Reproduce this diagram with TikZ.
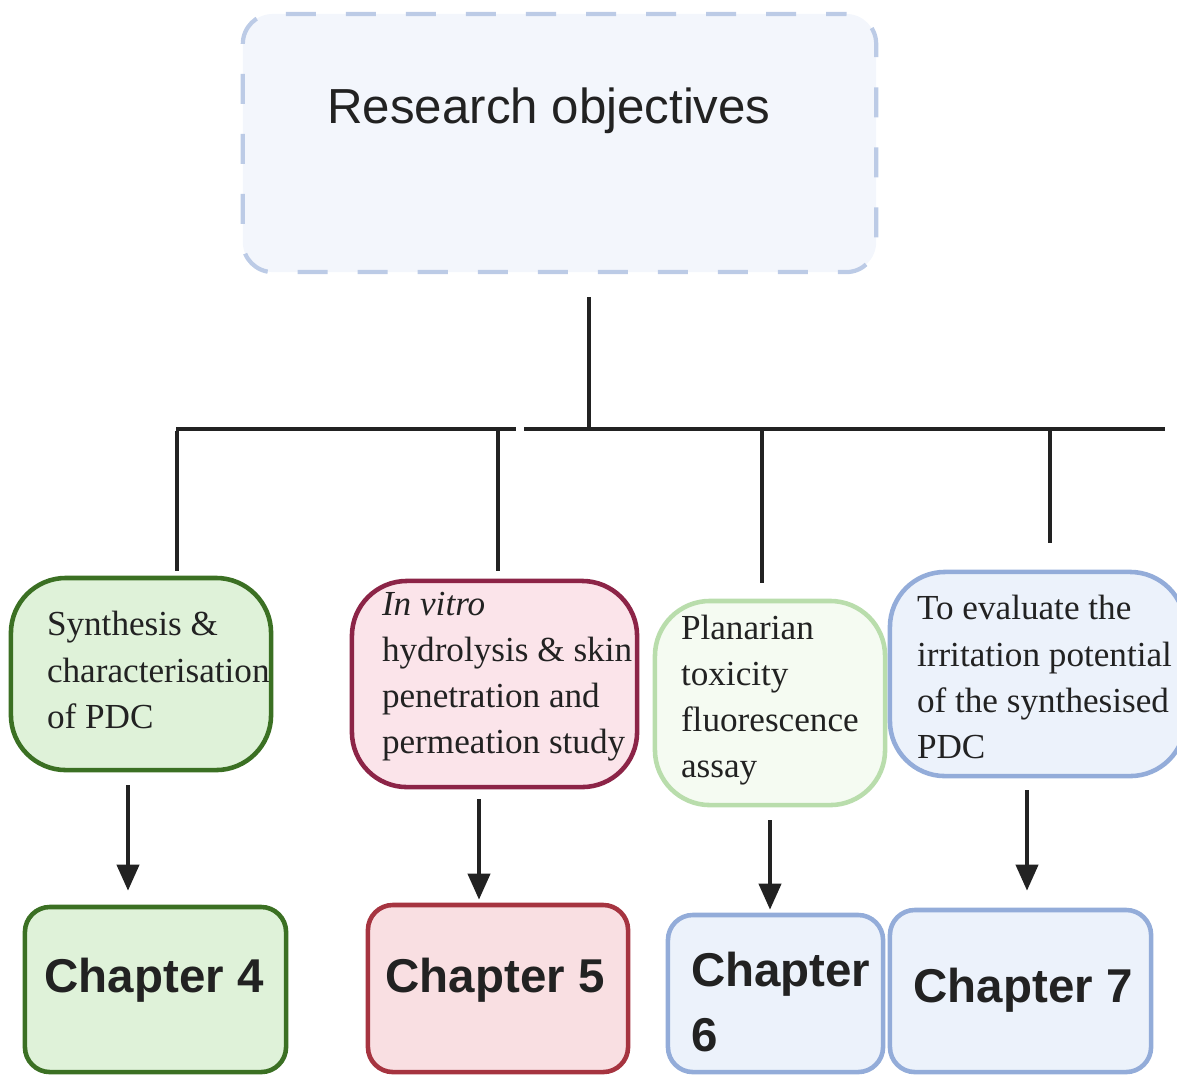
\documentclass[tikz,border=0pt]{standalone}
\usepackage{fontspec}
\setmainfont{Liberation Serif}
\setsansfont{Liberation Sans}
\usetikzlibrary{arrows.meta,positioning}
\definecolor{ink}{HTML}{222222}
\definecolor{dkgreen}{HTML}{3B7023}
\definecolor{dkgreenfill}{HTML}{DFF2D9}
\definecolor{palegreen}{HTML}{B9DDAC}
\definecolor{palegreenfill}{HTML}{F5FBF2}
\definecolor{wine}{HTML}{8C2447}
\definecolor{winefill}{HTML}{FBE4EA}
\definecolor{brick}{HTML}{A63440}
\definecolor{brickfill}{HTML}{F9DFE2}
\definecolor{steel}{HTML}{93ACD9}
\definecolor{steelfill}{HTML}{ECF2FB}
\definecolor{mist}{HTML}{BCCBE6}
\definecolor{mistfill}{HTML}{F3F6FC}

\begin{document}
\begin{tikzpicture}[x=0.01cm, y=-0.01cm, line width=1.15pt]
\tikzstyle{aim} = [draw, rounded corners=0.55cm, line width=1.3pt, inner sep=0cm]
\tikzstyle{chap} = [draw, rounded corners=0.25cm, line width=1.3pt, inner sep=0cm]
\tikzstyle{txt} = [anchor=west, align=left, inner sep=0cm, text=ink, font=\fontsize{10}{13.1}\selectfont]
\tikzstyle{big} = [inner sep=0cm, text=ink, font=\sffamily\bfseries\fontsize{13.5}{18.5}\selectfont]
\tikzstyle{arr} = [draw=ink, -{Triangle[width=0.22cm,length=0.26cm]}]
\useasboundingbox (0,0) rectangle (1177,1075);
% top box
\node[draw=mist, fill=mistfill, dash pattern=on 0.3cm off 0.3cm, dash phase=0.1cm, rounded corners=0.3cm, line width=1.2pt, minimum width=6.33cm, minimum height=2.58cm] (obj) at (559.5,143) {};
\node[text=ink, font=\sffamily\fontsize{14}{16}\selectfont] (objt) at (549,111) {Research objectives};
% objective boxes
\node[aim, draw=dkgreen, fill=dkgreenfill, minimum width=2.60cm, minimum height=1.92cm] (syn) at (141,674) {};
\node[aim, draw=wine, fill=winefill, minimum width=2.85cm, minimum height=2.06cm] (vit) at (494.5,684) {};
\node[aim, draw=palegreen, fill=palegreenfill, minimum width=2.30cm, minimum height=2.04cm] (pla) at (770,703) {};
\node[aim, draw=steel, fill=steelfill, minimum width=2.95cm, minimum height=2.04cm] (irr) at (1037.5,674) {};
\node[txt] (synt) at (45,670) {Synthesis \&\\characterisation\\of PDC};
\node[txt] (vitt) at (380,677) {\textit{In vitro}\\hydrolysis \& skin\\penetration and\\permeation study};
\node[txt] (plat) at (679,700) {Planarian\\toxicity\\fluorescence\\assay};
\node[txt] (irrt) at (915,677) {To evaluate the\\irritation potential\\of the synthesised\\PDC};
% chapters
\node[chap, draw=dkgreen, fill=dkgreenfill, minimum width=2.61cm, minimum height=1.65cm] (ch4) at (155.5,989.5) {};
\node[chap, draw=brick, fill=brickfill, minimum width=2.60cm, minimum height=1.67cm] (ch5) at (498,988.5) {};
\node[chap, draw=steel, fill=steelfill, minimum width=2.15cm, minimum height=1.57cm] (ch6) at (775.5,993.5) {};
\node[chap, draw=steel, fill=steelfill, minimum width=2.61cm, minimum height=1.62cm] (ch7) at (1020.5,991) {};
\node[big] (ch4t) at (154,980) {Chapter 4};
\node[big] (ch5t) at (495,980) {Chapter 5};
\node[big, anchor=west, align=left] (ch6t) at (689,1002) {Chapter\\6};
\node[big] (ch7t) at (1023,990) {Chapter 7};
% tree
\coordinate (stem) at (589,297);
\coordinate (hub) at (589,427);
\coordinate (barL) at (176,429);
\coordinate (barM) at (516,429);
\coordinate (barN) at (524,429);
\coordinate (barR) at (1165,429);
\draw[ink] (stem) -- (hub);
\draw[ink, line width=1.4pt] (barL) -- (barM) (barN) -- (barR);
\coordinate (d1) at (177,431);
\coordinate (d2) at (498,431);
\coordinate (d3) at (762,431);
\coordinate (d4) at (1050,431);
\draw[ink, shorten >=0.05cm] (d1) -- (d1 |- syn.north);
\draw[ink, shorten >=0.08cm] (d2) -- (d2 |- vit.north);
\draw[ink, shorten >=0.16cm] (d3) -- (d3 |- pla.north);
\draw[ink, shorten >=0.27cm] (d4) -- (d4 |- irr.north);
% arrows
\coordinate (a1) at (128,0);
\coordinate (a2) at (479,0);
\coordinate (a3) at (770,0);
\coordinate (a4) at (1027,0);
\draw[arr, shorten <=0.13cm, shorten >=0.14cm] (syn.south -| a1) -- (ch4.north -| a1);
\draw[arr, shorten <=0.10cm, shorten >=0.03cm] (vit.south -| a2) -- (ch5.north -| a2);
\draw[arr, shorten <=0.13cm, shorten >=0.03cm] (pla.south -| a3) -- (ch6.north -| a3);
\draw[arr, shorten <=0.12cm, shorten >=0.17cm] (irr.south -| a4) -- (ch7.north -| a4);
\end{tikzpicture}
\end{document}
